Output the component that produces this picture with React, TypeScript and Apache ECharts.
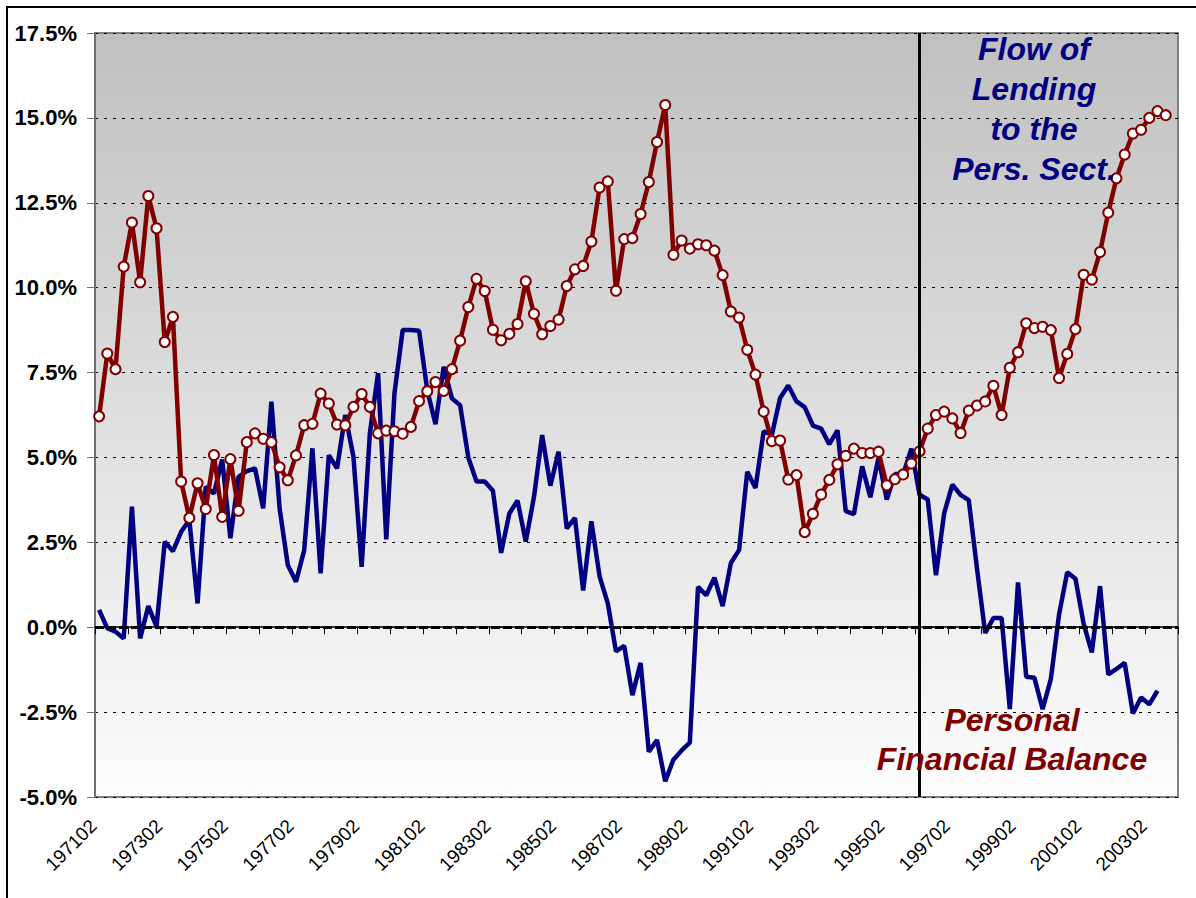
import React, { useEffect, useRef } from "react";
import * as echarts from "echarts";

// Quarterly categories 1971Q2 .. 2004Q1, labelled YYYY0Q
const startYear = 1971;
const startQuarter = 2;
const quarterCount = 132;
const categories: string[] = [];
for (let k = 0; k < quarterCount; k++) {
  const q = startQuarter - 1 + k;
  categories.push(`${startYear + Math.floor(q / 4)}0${(q % 4) + 1}`);
}

const yTicks = { min: -5, max: 17.5, interval: 2.5 };
const dividerCategory = "199602";

// Personal Financial Balance (%), maroon with markers
const financialBalance: (number | null)[] = [
  6.21, 8.06, 7.6, 10.62, 11.92, 10.16, 12.7, 11.75, 8.4, 9.14,
  4.29, 3.22, 4.24, 3.48, 5.07, 3.25, 4.95, 3.43, 5.45, 5.71,
  5.55, 5.45, 4.71, 4.33, 5.06, 5.95, 5.99, 6.88, 6.59, 5.97,
  5.95, 6.49, 6.87, 6.49, 5.71, 5.79, 5.77, 5.7, 5.9, 6.66,
  6.95, 7.22, 6.96, 7.6, 8.44, 9.43, 10.26, 9.9, 8.76, 8.45,
  8.64, 8.93, 10.19, 9.23, 8.63, 8.87, 9.06, 10.05, 10.54, 10.64,
  11.36, 12.95, 13.13, 9.91, 11.43, 11.46, 12.17, 13.11, 14.29, 15.38,
  10.97, 11.39, 11.15, 11.28, 11.25, 11.09, 10.37, 9.3, 9.12, 8.17,
  7.44, 6.35, 5.48, 5.5, 4.35, 4.48, 2.8, 3.34, 3.91, 4.34,
  4.8, 5.05, 5.26, 5.13, 5.13, 5.17, 4.18, 4.36, 4.5, 4.82,
  5.18, 5.85, 6.25, 6.35, 6.15, 5.72, 6.38, 6.53, 6.65, 7.11,
  6.25, 7.64, 8.1, 8.95, 8.81, 8.85, 8.75, 7.34, 8.05, 8.78,
  10.38, 10.24, 11.05, 12.21, 13.22, 13.92, 14.54, 14.65, 15.0, 15.2,
  15.08, null,
];

// Flow of Lending to the Personal Sector (%), navy
const lendingFlow: (number | null)[] = [
  0.51, -0.03, -0.13, -0.33, 3.55, -0.33, 0.62, 0.02, 2.52, 2.24,
  2.81, 3.16, 0.7, 4.14, 3.94, 4.94, 2.62, 4.43, 4.6, 4.68,
  3.5, 6.64, 3.5, 1.83, 1.34, 2.27, 5.27, 1.59, 5.07, 4.68,
  6.25, 5.02, 1.78, 5.71, 7.48, 2.59, 6.89, 8.75, 8.75, 8.73,
  6.98, 5.98, 7.67, 6.74, 6.54, 5.0, 4.29, 4.29, 4.02, 2.19,
  3.35, 3.73, 2.52, 3.83, 5.66, 4.17, 5.17, 2.91, 3.22, 1.08,
  3.12, 1.5, 0.7, -0.71, -0.55, -2.0, -1.05, -3.67, -3.32, -4.54,
  -3.9, -3.63, -3.4, 1.19, 0.94, 1.46, 0.62, 1.89, 2.27, 4.58,
  4.1, 5.77, 5.67, 6.75, 7.12, 6.65, 6.48, 5.94, 5.85, 5.39,
  5.8, 3.42, 3.33, 4.74, 3.83, 4.99, 3.76, 4.51, 4.51, 5.26,
  3.9, 3.76, 1.53, 3.36, 4.2, 3.9, 3.74, 1.73, -0.17, 0.27,
  0.27, -2.41, 1.32, -1.46, -1.49, -2.41, -1.53, 0.37, 1.62, 1.43,
  0.1, -0.74, 1.21, -1.39, -1.23, -1.05, -2.54, -2.07, -2.27, -1.87,
  null, null,
];

const lendingLabel = ["Flow of", "Lending", "to the", "Pers. Sect."];
const balanceLabel = ["Personal", "Financial Balance"];

const NAVY = "#000080";
const MAROON = "#800000";

export default function App() {
  const ref = useRef<HTMLDivElement>(null);

  useEffect(() => {
    if (!ref.current) return;
    const chart = echarts.init(ref.current, null, { renderer: "svg" });

    const textFont = "'Liberation Sans', Arial, sans-serif";
    const graphics: any[] = [
      {
        type: "rect",
        shape: { x: 7, y: 7, width: 1200, height: 900 },
        style: { fill: "none", stroke: "#000", lineWidth: 2 },
        silent: true,
        z: 0,
      },
    ];
    lendingLabel.forEach((t, i) => {
      graphics.push({
        type: "text",
        x: 1034,
        y: 49 + i * 40,
        z: 100,
        style: {
          text: t,
          fill: NAVY,
          font: `italic bold 32px ${textFont}`,
          textAlign: "center",
          textVerticalAlign: "middle",
        },
      });
    });
    balanceLabel.forEach((t, i) => {
      graphics.push({
        type: "text",
        x: 1012,
        y: 720 + i * 39,
        z: 100,
        style: {
          text: t,
          fill: MAROON,
          font: `italic bold 32px ${textFont}`,
          textAlign: "center",
          textVerticalAlign: "middle",
        },
      });
    });

    chart.setOption({
      animation: false,
      backgroundColor: "#ffffff",
      grid: {
        left: 95,
        right: 18,
        top: 33,
        bottom: 101,
        show: true,
        borderColor: "#808080",
        borderWidth: 2,
        backgroundColor: {
          type: "linear",
          x: 0,
          y: 0,
          x2: 0,
          y2: 1,
          colorStops: [
            { offset: 0, color: "#c0c0c0" },
            { offset: 1, color: "#fdfdfd" },
          ],
        },
      },
      xAxis: {
        type: "category",
        data: categories,
        boundaryGap: true,
        axisLine: { show: true, lineStyle: { color: "#000", width: 1.5 } },
        axisTick: {
          show: true,
          interval: 3,
          length: 7,
          lineStyle: { color: "#000", width: 1 },
        },
        axisLabel: {
          interval: 7,
          rotate: 45,
          margin: 20,
          padding: [0, 8, 0, 0],
          fontSize: 19,
          color: "#000",
          fontFamily: "'Liberation Sans Narrow', 'Arial Narrow', 'Liberation Sans', sans-serif",
        },
        splitLine: { show: false },
      },
      yAxis: {
        type: "value",
        min: yTicks.min,
        max: yTicks.max,
        interval: yTicks.interval,
        axisLine: { show: true, lineStyle: { color: "#707070", width: 2 } },
        axisTick: { show: true, length: 8, lineStyle: { color: "#707070", width: 1 } },
        axisLabel: {
          formatter: (v: number) => v.toFixed(1) + "%",
          fontSize: 22,
          fontWeight: "bold",
          color: "#000",
          margin: 18,
          fontFamily: textFont,
        },
        splitLine: {
          show: true,
          lineStyle: { color: "#000", width: 1.2, type: [3, 6] },
        },
      },
      graphic: graphics,
      series: [
        {
          name: "Flow of Lending to the Pers. Sect.",
          type: "line",
          data: lendingFlow,
          showSymbol: false,
          symbol: "none",
          lineStyle: { color: NAVY, width: 4.5 },
          itemStyle: { color: NAVY },
          z: 3,
          markLine: {
            silent: true,
            symbol: "none",
            label: { show: false },
            lineStyle: { color: "#000", width: 3, type: [9, 3] },
            data: [{ yAxis: 0 }],
          },
        },
        {
          name: "Personal Financial Balance",
          type: "line",
          data: financialBalance,
          symbol: "circle",
          symbolSize: 10,
          showSymbol: true,
          showAllSymbol: true,
          lineStyle: { color: MAROON, width: 4.5 },
          itemStyle: { color: "#ffffff", borderColor: MAROON, borderWidth: 2 },
          z: 4,
          markLine: {
            silent: true,
            symbol: "none",
            label: { show: false },
            lineStyle: { color: "#000", width: 3, type: "solid" },
            data: [{ xAxis: dividerCategory }],
          },
        },
      ],
    });

    return () => chart.dispose();
  }, []);

  return (
    <div
      ref={ref}
      style={{ position: "absolute", left: 0, top: 0, width: 1196, height: 898 }}
    />
  );
}
